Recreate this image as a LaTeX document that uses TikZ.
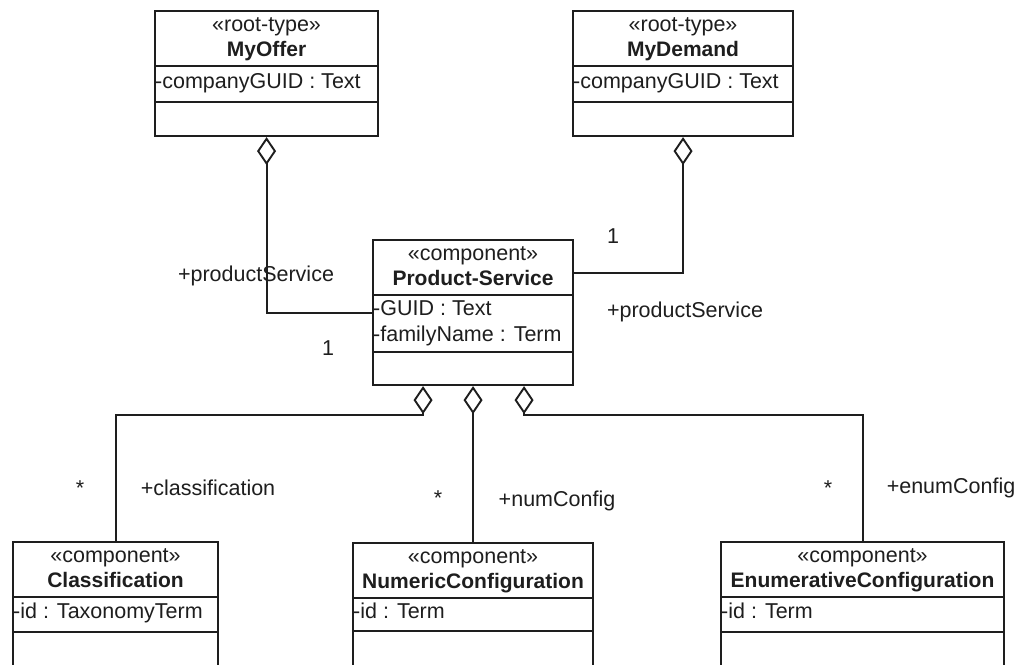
\documentclass[tikz,border=0pt]{standalone}
\usepackage{fontspec}
\setmainfont{Liberation Sans}
\usetikzlibrary{arrows.meta,calc}

\definecolor{ink}{HTML}{1E1E1E}

% One UML class: #1 name, #2 left x, #3 top y, #4 width, #5 height,
% #6 stereotype, #7 class name, #8 offset of the second separator
\newcommand\umlclass[8]{%
  \node[classbox, minimum width=#4pt, minimum height=#5pt, anchor=north west] (#1) at (#2,#3) {};
  \node[stereo] (#1-st) at ($(#1.north)+(0,21)$) {«#6»};
  \node[cname] (#1-nm) at ($(#1.north)+(0,46)$) {#7};
  \draw[classline] ($(#1.north west)+(0,56)$) -- ($(#1.north east)+(0,56)$);
  \draw[classline] ($(#1.north west)+(0,#8)$) -- ($(#1.north east)+(0,#8)$);
}

\begin{document}
\begin{tikzpicture}[x=1pt, y=-1pt,
  font=\fontsize{21.5}{25}\selectfont,
  classbox/.style={draw=ink, line width=2.1pt, inner sep=0pt, rectangle},
  classline/.style={draw=ink, line width=2.1pt},
  stereo/.style={anchor=base, inner sep=0pt, text=ink},
  cname/.style={anchor=base, inner sep=0pt, text=ink, font=\fontsize{21}{25}\selectfont\bfseries},
  attr/.style={anchor=base west, inner sep=0pt, text=ink},
  role/.style={anchor=base, inner sep=0pt, text=ink},
  agg/.style={draw=ink, line width=1.9pt, arrows={Diamond[open,length=28pt,width=19pt]-}}
]
\clip (0,0) rectangle (1017,664);
\fill[white] (0,0) rectangle (1017,664);

% classes
\umlclass{offer}{154}{10}{223}{125}{root-type}{MyOffer}{92}
\node[attr] (offer-a1) at ($(offer.north west)+(1,78)$) {-companyGUID : Text};

\umlclass{demand}{572}{10}{220}{125}{root-type}{MyDemand}{92}
\node[attr] (demand-a1) at ($(demand.north west)+(1,78)$) {-companyGUID : Text};

\umlclass{ps}{372}{239}{200}{145}{component}{Product-Service}{113}
\node[attr] (ps-a1) at ($(ps.north west)+(1,76)$) {-GUID : Text};
\node[attr] (ps-a2) at ($(ps.north west)+(1,102)$) {-familyName : Term};

\umlclass{cls}{12}{541}{205}{140}{component}{Classification}{91}
\node[attr] (cls-a1) at ($(cls.north west)+(1,77)$) {-id : TaxonomyTerm};

\umlclass{num}{352}{542}{240}{140}{component}{NumericConfiguration}{89}
\node[attr] (num-a1) at ($(num.north west)+(1,76)$) {-id : Term};

\umlclass{enm}{720}{541}{283}{140}{component}{EnumerativeConfiguration}{91}
\node[attr] (enm-a1) at ($(enm.north west)+(1,77)$) {-id : Term};

% aggregations
\coordinate (psR) at ($(ps.north east)+(0,34)$);
\draw[agg] (offer.south) |- (ps.west);
\draw[agg] (demand.south) |- (psR);

\coordinate (d1) at ($(ps.south)+(-50,0)$);
\coordinate (d3) at ($(ps.south)+(51,0)$);
\draw[agg] (d1) -- ++(0,29) -| (cls.north);
\draw[agg] (ps.south) -- (num.north);
\draw[agg] (d3) -- ++(0,29) -| (enm.north);

% role names and multiplicities
\node[role] (r1) at (256,281) {+productService};
\node[role] (m1) at (328,355) {1};
\node[role] (m2) at (613,243) {1};
\node[role] (r2) at (685,317) {+productService};

\node[role] (m3) at (80,495) {*};
\node[role] (r3) at (208,495) {+classification};
\node[role] (m4) at (438,505) {*};
\node[role] (r4) at (557,506) {+numConfig};
\node[role] (m5) at (828,495) {*};
\node[role] (r5) at (951,493) {+enumConfig};
\end{tikzpicture}
\end{document}
